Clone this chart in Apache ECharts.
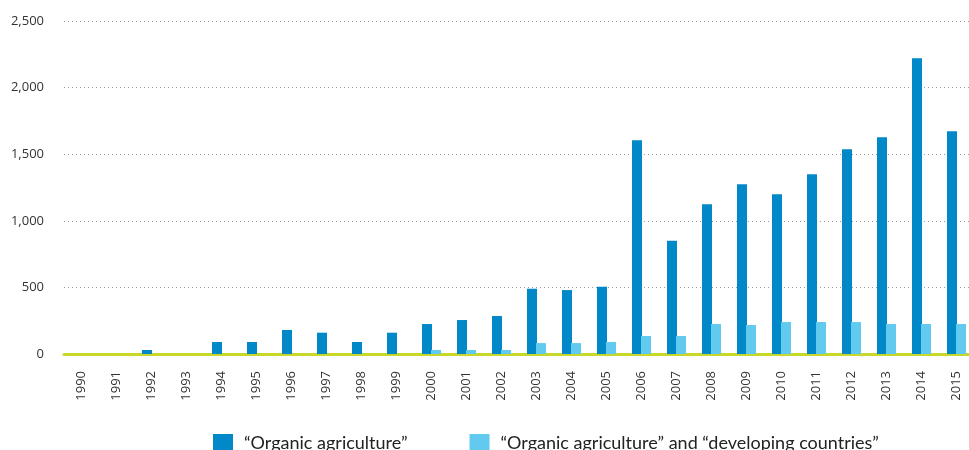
<!DOCTYPE html>
<html><head><meta charset="utf-8">
<script src="https://cdn.jsdelivr.net/npm/echarts@6/dist/echarts.min.js"></script>
<style>html,body{margin:0;padding:0;background:#fff;overflow:hidden}#c{width:974px;height:450px}</style>
</head><body><div id="c"></div>
<script>
const years = ['1990','1991','1992','1993','1994','1995','1996','1997','1998','1999','2000','2001','2002','2003','2004','2005','2006','2007','2008','2009','2010','2011','2012','2013','2014','2015'];
const organic = [0,0,30,0,90,90,180,160,90,160,225,255,285,490,480,505,1605,850,1125,1275,1200,1350,1538,1628,2220,1673];
const organicDev = [0,0,0,0,0,0,0,0,0,0,30,30,30,82,82,90,135,135,225,218,240,240,240,225,225,225];
const yTicks = {min:0, max:2500, interval:500};
const seriesNames = ['\u201cOrganic agriculture\u201d','\u201cOrganic agriculture\u201d and \u201cdeveloping countries\u201d'];

const chart = echarts.init(document.getElementById('c'));
chart.setOption({
  animation:false,
  grid:{left:64, right:0, top:21, bottom:96},
  legend:{
    left:208, top:429, itemWidth:20, itemHeight:18, itemGap:62,
    icon:'rect',
    textStyle:{fontFamily:'Lato', fontSize:18, color:'#222', padding:[0,0,0,6]},
    data:seriesNames
  },
  xAxis:{
    type:'category', data:years,
    axisLine:{show:true, lineStyle:{color:'#c8d82a', width:3}},
    axisTick:{show:false},
    axisLabel:{rotate:90, margin:17, fontFamily:'Open Sans', fontSize:13, color:'#333'}
  },
  yAxis:{
    type:'value', min:yTicks.min, max:yTicks.max, interval:yTicks.interval,
    axisLine:{show:false}, axisTick:{show:false},
    axisLabel:{margin:20, fontFamily:'Open Sans', fontSize:13, color:'#333',
      formatter:v=>v.toLocaleString('en-US')},
    splitLine:{show:true, lineStyle:{type:[1,3], color:'#999', width:1}}
  },
  series:[
    {name:seriesNames[0], type:'bar', data:organic, barWidth:10, barGap:'-10%', itemStyle:{color:'#0088c8'}},
    {name:seriesNames[1], type:'bar', data:organicDev, barWidth:10, itemStyle:{color:'#62caee'}}
  ]
});
</script></body></html>
